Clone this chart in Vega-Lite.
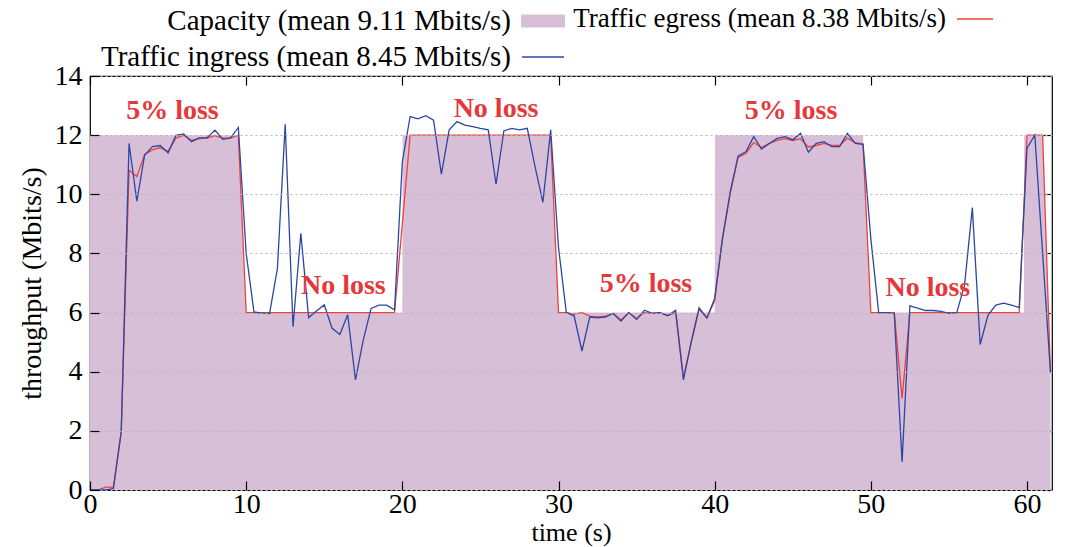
{
  "$schema": "https://vega.github.io/schema/vega-lite/v6.json",
  "width": 962,
  "height": 414,
  "autosize": {"type": "none"},
  "padding": {"left": 90, "top": 76, "right": 16, "bottom": 57},
  "background": "white",
  "config": {
    "view": {"stroke": "black", "strokeWidth": 1.2},
    "font": "Liberation Serif",
    "axis": {
      "labelFont": "Liberation Serif", "labelFontSize": 28, "labelColor": "black",
      "titleFont": "Liberation Serif", "titleFontSize": 28, "titleFontWeight": "normal", "titleColor": "black",
      "tickColor": "black", "tickWidth": 1.2, "domain": false, "labelFlush": false, "labelOverlap": false
    },
    "legend": {
      "orient": "none", "padding": 0, "title": null,
      "labelFont": "Liberation Serif", "labelFontSize": 29, "labelColor": "black",
      "labelAlign": "right", "labelLimit": 0
    }
  },
  "datasets": {
    "capacity": [
      {"t": 0, "v": 12}, {"t": 9.5, "v": 12}, {"t": 10, "v": 6}, {"t": 20, "v": 6}, {"t": 20.02, "v": 12},
      {"t": 29.5, "v": 12}, {"t": 30, "v": 6}, {"t": 40, "v": 6}, {"t": 40.02, "v": 12}, {"t": 49.5, "v": 12},
      {"t": 50, "v": 6}, {"t": 59.8, "v": 6}, {"t": 59.82, "v": 12}, {"t": 61, "v": 12}, {"t": 61.5, "v": 4}
    ],
    "egress": [
      {"t":0,"v":0},{"t":0.5,"v":0},{"t":1,"v":0.1},{"t":1.5,"v":0.1},{"t":2,"v":1.97},{"t":2.5,"v":10.82},{"t":3,"v":10.6},{"t":3.5,"v":11.35},{"t":4,"v":11.5},{"t":4.5,"v":11.58},
      {"t":5,"v":11.45},{"t":5.5,"v":11.9},{"t":6,"v":12.0},{"t":6.5,"v":11.82},{"t":7,"v":11.88},{"t":7.5,"v":11.9},{"t":8,"v":11.98},{"t":8.5,"v":11.9},{"t":9,"v":11.9},{"t":9.5,"v":12.0},
      {"t":10,"v":6},{"t":10.5,"v":6},{"t":11,"v":6},{"t":11.5,"v":6},{"t":12,"v":6},{"t":12.5,"v":6},{"t":13,"v":6},{"t":13.5,"v":6},{"t":14,"v":6},{"t":14.5,"v":6},
      {"t":15,"v":6},{"t":15.5,"v":6},{"t":16,"v":6},{"t":16.5,"v":6},{"t":17,"v":6},{"t":17.5,"v":6},{"t":18,"v":6},{"t":18.5,"v":6},{"t":19,"v":6},{"t":19.5,"v":6},
      {"t":20,"v":9.0},{"t":20.5,"v":12},{"t":21,"v":12},{"t":21.5,"v":12},{"t":22,"v":12},{"t":22.5,"v":12},{"t":23,"v":12},{"t":23.5,"v":12},{"t":24,"v":12},{"t":24.5,"v":12},
      {"t":25,"v":12},{"t":25.5,"v":12},{"t":26,"v":12},{"t":26.5,"v":12},{"t":27,"v":12},{"t":27.5,"v":12},{"t":28,"v":12},{"t":28.5,"v":12},{"t":29,"v":12},{"t":29.5,"v":12},
      {"t":30,"v":6},{"t":30.5,"v":6},{"t":31,"v":5.95},{"t":31.5,"v":6},{"t":32,"v":5.88},{"t":32.5,"v":5.85},{"t":33,"v":5.88},{"t":33.5,"v":5.97},{"t":34,"v":5.75},{"t":34.5,"v":6},
      {"t":35,"v":5.8},{"t":35.5,"v":6},{"t":36,"v":5.97},{"t":36.5,"v":6},{"t":37,"v":5.9},{"t":37.5,"v":6},{"t":38,"v":3.8},{"t":38.5,"v":5.0},{"t":39,"v":6.1},{"t":39.5,"v":5.82},
      {"t":40,"v":6.4},{"t":40.5,"v":8.5},{"t":41,"v":10.05},{"t":41.5,"v":11.25},{"t":42,"v":11.38},{"t":42.5,"v":11.75},{"t":43,"v":11.58},{"t":43.5,"v":11.72},{"t":44,"v":11.82},{"t":44.5,"v":11.88},
      {"t":45,"v":11.82},{"t":45.5,"v":11.88},{"t":46,"v":11.6},{"t":46.5,"v":11.65},{"t":47,"v":11.72},{"t":47.5,"v":11.65},{"t":48,"v":11.65},{"t":48.5,"v":11.9},{"t":49,"v":11.75},{"t":49.5,"v":11.7},
      {"t":50,"v":6},{"t":50.5,"v":6},{"t":51,"v":6},{"t":51.5,"v":6},{"t":52,"v":3.1},{"t":52.5,"v":6},{"t":53,"v":6},{"t":53.5,"v":6},{"t":54,"v":6},{"t":54.5,"v":6},
      {"t":55,"v":6},{"t":55.5,"v":6},{"t":56,"v":6},{"t":56.5,"v":6},{"t":57,"v":6},{"t":57.5,"v":6},{"t":58,"v":6},{"t":58.5,"v":6},{"t":59,"v":6},{"t":59.5,"v":6},
      {"t":60,"v":12},{"t":60.5,"v":12},{"t":61,"v":12},{"t":61.5,"v":4.0}
    ],
    "ingress": [
      {"t":0,"v":0},{"t":0.5,"v":0},{"t":1,"v":0},{"t":1.5,"v":0.05},{"t":2,"v":1.97},{"t":2.5,"v":11.72},{"t":3,"v":9.77},{"t":3.5,"v":11.33},{"t":4,"v":11.61},{"t":4.5,"v":11.65},
      {"t":5,"v":11.4},{"t":5.5,"v":11.99},{"t":6,"v":12.04},{"t":6.5,"v":11.78},{"t":7,"v":11.91},{"t":7.5,"v":11.91},{"t":8,"v":12.17},{"t":8.5,"v":11.86},{"t":9,"v":11.91},{"t":9.5,"v":12.26},
      {"t":10,"v":8.0},{"t":10.5,"v":6.02},{"t":11,"v":5.98},{"t":11.5,"v":5.97},{"t":12,"v":7.49},{"t":12.5,"v":12.37},{"t":13,"v":5.52},{"t":13.5,"v":8.68},{"t":14,"v":5.83},{"t":14.5,"v":6.05},
      {"t":15,"v":6.26},{"t":15.5,"v":5.47},{"t":16,"v":5.26},{"t":16.5,"v":5.93},{"t":17,"v":3.72},{"t":17.5,"v":5.08},{"t":18,"v":6.14},{"t":18.5,"v":6.25},{"t":19,"v":6.25},{"t":19.5,"v":6.09},
      {"t":20,"v":11.1},{"t":20.5,"v":12.63},{"t":21,"v":12.55},{"t":21.5,"v":12.66},{"t":22,"v":12.51},{"t":22.5,"v":10.68},{"t":23,"v":12.18},{"t":23.5,"v":12.46},{"t":24,"v":12.34},{"t":24.5,"v":12.29},
      {"t":25,"v":12.23},{"t":25.5,"v":12.18},{"t":26,"v":10.34},{"t":26.5,"v":12.14},{"t":27,"v":12.23},{"t":27.5,"v":12.18},{"t":28,"v":12.23},{"t":28.5,"v":10.93},{"t":29,"v":9.73},{"t":29.5,"v":12.18},
      {"t":30,"v":8.2},{"t":30.5,"v":6.0},{"t":31,"v":5.89},{"t":31.5,"v":4.7},{"t":32,"v":5.85},{"t":32.5,"v":5.82},{"t":33,"v":5.85},{"t":33.5,"v":5.97},{"t":34,"v":5.71},{"t":34.5,"v":6.0},
      {"t":35,"v":5.77},{"t":35.5,"v":6.08},{"t":36,"v":5.97},{"t":36.5,"v":6.0},{"t":37,"v":5.89},{"t":37.5,"v":6.08},{"t":38,"v":3.72},{"t":38.5,"v":5.01},{"t":39,"v":6.16},{"t":39.5,"v":5.82},
      {"t":40,"v":6.48},{"t":40.5,"v":8.51},{"t":41,"v":10.09},{"t":41.5,"v":11.3},{"t":42,"v":11.44},{"t":42.5,"v":11.95},{"t":43,"v":11.53},{"t":43.5,"v":11.72},{"t":44,"v":11.89},{"t":44.5,"v":11.95},
      {"t":45,"v":11.84},{"t":45.5,"v":12.06},{"t":46,"v":11.42},{"t":46.5,"v":11.72},{"t":47,"v":11.78},{"t":47.5,"v":11.61},{"t":48,"v":11.61},{"t":48.5,"v":12.06},{"t":49,"v":11.72},{"t":49.5,"v":11.69},
      {"t":50,"v":8.5},{"t":50.5,"v":6.0},{"t":51,"v":6.0},{"t":51.5,"v":5.97},{"t":52,"v":0.95},{"t":52.5,"v":6.23},{"t":53,"v":6.15},{"t":53.5,"v":6.07},{"t":54,"v":6.07},{"t":54.5,"v":6.04},
      {"t":55,"v":5.97},{"t":55.5,"v":6.0},{"t":56,"v":6.93},{"t":56.5,"v":9.55},{"t":57,"v":4.92},{"t":57.5,"v":5.91},{"t":58,"v":6.25},{"t":58.5,"v":6.32},{"t":59,"v":6.25},{"t":59.5,"v":6.17},
      {"t":60,"v":11.56},{"t":60.5,"v":12.0},{"t":61,"v":8.0},{"t":61.5,"v":3.99}
    ],
    "notes": [
      {"t": 5.28, "v": 12.8, "label": "5% loss"},
      {"t": 16.22, "v": 6.9, "label": "No loss"},
      {"t": 26.0, "v": 12.89, "label": "No loss"},
      {"t": 35.6, "v": 6.96, "label": "5% loss"},
      {"t": 44.89, "v": 12.83, "label": "5% loss"},
      {"t": 53.65, "v": 6.83, "label": "No loss"}
    ]
  },
  "layer": [
    {
      "data": {"name": "capacity"},
      "mark": {"type": "area", "interpolate": "linear"},
      "encoding": {
        "x": {"field": "t", "type": "quantitative", "scale": {"domain": [0, 61.6], "nice": false, "zero": false},
              "axis": {"values": [0, 10, 20, 30, 40, 50, 60], "title": "time (s)", "titleFontSize": 26, "tickSize": -9, "labelPadding": 9, "titlePadding": 1, "grid": false, "zindex": 1}},
        "y": {"field": "v", "type": "quantitative", "stack": null, "scale": {"domain": [0, 14], "nice": false},
              "axis": {"values": [0, 2, 4, 6, 8, 10, 12, 14], "title": "throughput (Mbits/s)", "tickSize": -9, "labelPadding": 17, "titlePadding": 8,
                       "grid": true, "gridDash": [2, 3], "gridColor": "#b4b4b4", "gridWidth": 1, "zindex": 1}},
        "fill": {"datum": "Capacity (mean 9.11 Mbits/s)", "scale": {"range": ["#d8bfd8"]},
                 "legend": {"legendX": 431, "legendY": -77, "symbolType": "M-1,-0.3H1V0.3H-1Z", "symbolSize": 1936, "symbolStrokeWidth": 0, "labelOffset": -54}}
      }
    },
    {
      "data": {"name": "egress"},
      "mark": {"type": "line", "strokeWidth": 1.3},
      "encoding": {
        "x": {"field": "t", "type": "quantitative",
              "axis": {"orient": "top", "values": [0, 10, 20, 30, 40, 50, 60], "labels": false, "title": null, "tickSize": -9, "grid": false}},
        "y": {"field": "v", "type": "quantitative",
              "axis": {"orient": "right", "values": [0, 2, 4, 6, 8, 10, 12, 14], "labels": false, "title": null, "tickSize": -9, "grid": false}},
        "stroke": {"datum": "Traffic egress (mean 8.38 Mbits/s)", "scale": {"range": ["#f0403c"]},
                   "legend": {"legendX": 866, "legendY": -76, "symbolType": "stroke", "symbolSize": 1296, "symbolStrokeWidth": 1.3, "labelOffset": -48, "labelFontSize": 27}}
      }
    },
    {
      "data": {"name": "ingress"},
      "mark": {"type": "line", "strokeWidth": 1.3},
      "encoding": {
        "x": {"field": "t", "type": "quantitative", "axis": null},
        "y": {"field": "v", "type": "quantitative", "axis": null},
        "color": {"datum": "Traffic ingress (mean 8.45 Mbits/s)", "scale": {"range": ["#2b47a3"]},
                  "legend": {"legendX": 431, "legendY": -41, "symbolType": "stroke", "symbolSize": 1764, "symbolStrokeWidth": 1.3, "labelOffset": -54}}
      }
    },
    {
      "data": {"name": "notes"},
      "mark": {"type": "text", "font": "Liberation Serif", "fontWeight": "bold", "fontSize": 28, "color": "#e6373a", "align": "center", "baseline": "middle"},
      "encoding": {
        "x": {"field": "t", "type": "quantitative", "axis": null},
        "y": {"field": "v", "type": "quantitative", "axis": null},
        "text": {"field": "label"}
      }
    }
  ],
  "resolve": {"axis": {"x": "independent", "y": "independent"}}
}
